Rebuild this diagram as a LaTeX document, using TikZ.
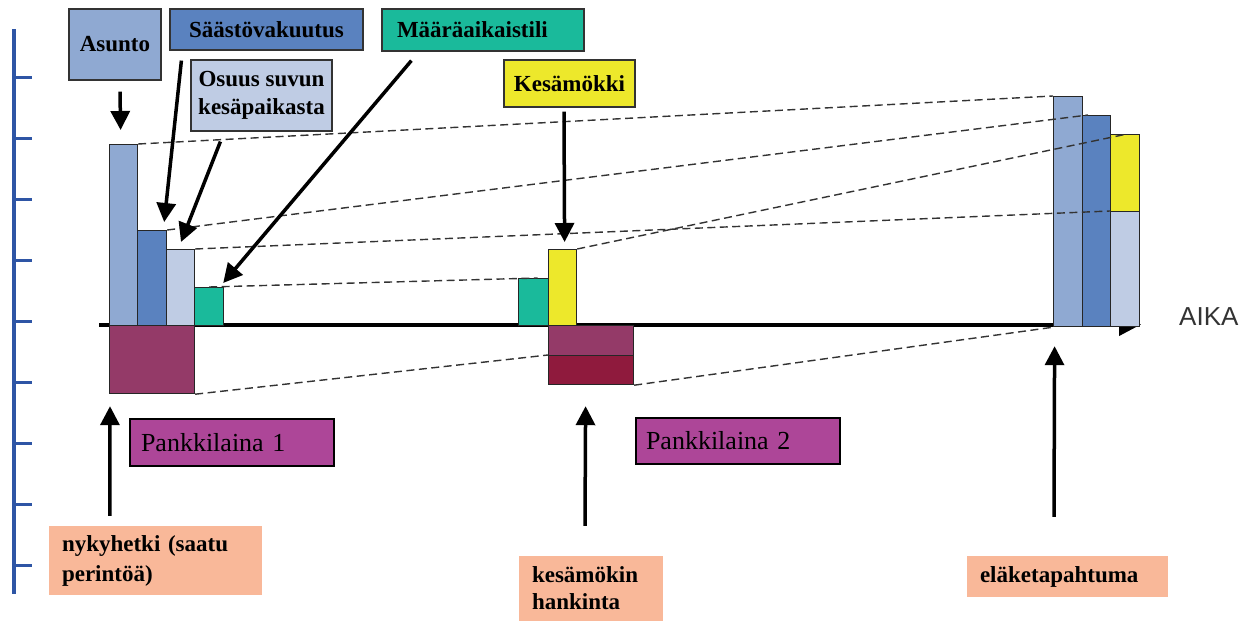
\documentclass[tikz,border=0pt]{standalone}
\usepackage{fontspec}
\setmainfont{Liberation Serif}
\newfontfamily\aikafont{Liberation Sans}
\usetikzlibrary{arrows.meta,calc}
\definecolor{cAs}{HTML}{8FA9D2}
\definecolor{cSa}{HTML}{5A82BF}
\definecolor{cOs}{HTML}{BFCCE4}
\definecolor{cTe}{HTML}{1ABA9B}
\definecolor{cYe}{HTML}{EDE82B}
\definecolor{cPu}{HTML}{943A68}
\definecolor{cDr}{HTML}{8F1A3D}
\definecolor{cPl}{HTML}{AD4698}
\definecolor{cOr}{HTML}{F9B899}
\definecolor{cAx}{HTML}{2E55A5}
\definecolor{cAika}{HTML}{333333}
\tikzset{
  bar/.style={draw=black!85, line width=1.2pt, inner sep=0pt, anchor=north west},
  toplab/.style={draw=black!80, line width=1.2pt, inner sep=0pt, text=black,
    font=\fontsize{23}{28}\selectfont\bfseries, align=center},
  leftlab/.style={inner ysep=0pt, align=left, text=black},
  loanlab/.style={draw=black, line width=2pt, leftlab, fill=cPl,
    font=\fontsize{26}{30}\selectfont},
  eventlab/.style={leftlab, fill=cOr, inner xsep=13pt},
  arr/.style={line width=3.5pt, -{Triangle[length=19pt,width=19pt]}},
  dash line/.style={draw=black!80, line width=1.4pt, dash pattern=on 8pt off 4.5pt},
}
\begin{document}
\begin{tikzpicture}[x=1pt,y=-1pt]
\useasboundingbox (0,0) rectangle (1248,621);
\fill[white] (0,0) rectangle (1248,621);

% left scale
\draw[cAx, line width=4pt] (14,29) -- (14,594);
\foreach \i in {0,...,8}
  \draw[cAx, line width=3pt] (14,77+61.1*\i) -- (32,77+61.1*\i);

% time axis
\coordinate (axs) at (99,324.5);
\coordinate (axe) at (1141,324.5);
\draw[line width=4pt, -{Triangle[length=22pt,width=22pt]}] (axs) -- (axe);
\node[font=\aikafont\fontsize{26}{30}\selectfont, text=cAika, anchor=base west, inner sep=0pt] (aika) at (1179,325) {AIKA};

% left bars
\node[bar, fill=cAs, minimum width=28pt, minimum height=181pt] (b1) at (109,144) {};
\node[bar, fill=cSa, minimum width=29pt, minimum height=95pt] (b2) at (137,230) {};
\node[bar, fill=cOs, minimum width=28pt, minimum height=76pt] (b3) at (166,249) {};
\node[bar, fill=cTe, minimum width=29pt, minimum height=38pt] (b4) at (194,287) {};
\node[bar, fill=cPu, minimum width=85pt, minimum height=68pt] (p1) at (109,325) {};
% middle bars
\node[bar, fill=cTe, minimum width=30pt, minimum height=47pt] (m1) at (518,278) {};
\node[bar, fill=cYe, minimum width=28pt, minimum height=76pt] (m2) at (548,249) {};
\node[bar, fill=cPu, minimum width=85pt, minimum height=30pt] (m3) at (548,325) {};
\node[bar, fill=cDr, minimum width=85pt, minimum height=29pt] (m4) at (548,355) {};
% right bars
\node[bar, fill=cAs, minimum width=29pt, minimum height=230pt] (r1) at (1053,96) {};
\node[bar, fill=cSa, minimum width=28pt, minimum height=211pt] (r2) at (1082,115) {};
\node[bar, fill=cYe, minimum width=29pt, minimum height=77pt] (r3y) at (1110,134) {};
\node[bar, fill=cOs, minimum width=29pt, minimum height=115pt] (r3b) at (1110,211) {};

% dashed connections
\draw[dash line] (b1.north east) -- (r1.north west);
\draw[dash line] (b2.north east) -- ([xshift=6pt]r2.north west);
\draw[dash line] (b3.north east) -- (r3b.north west);
\draw[dash line] (b4.north) -- ([xshift=4pt]m1.north);
\draw[dash line] (m2.north east) -- ([xshift=2pt]r3y.north);
\draw[dash line] (p1.south east) -- (m4.north west);
\draw[dash line] (m4.south east) -- (r1.south west);

% top labels
\node[toplab, fill=cAs, minimum width=92pt, minimum height=71pt] (asunto) at (115,44.5) {Asunto};
\node[toplab, fill=cSa, minimum width=193pt, minimum height=41pt] (sa) at (266.5,29.5) {Säästövakuutus};
\node[toplab, fill=cOs, minimum width=141pt, minimum height=71pt] (os) at (261.5,95.5) {Osuus suvun\\kesäpaikasta};
\node[toplab, fill=cTe, minimum height=42pt, text width=172pt, inner xsep=15pt, align=left] (ma) at (483,30) {Määräaikaistili};
\node[toplab, fill=cYe, minimum width=131pt, minimum height=47pt] (ke) at (569.5,83.5) {Kesämökki};

% loan labels
\node[loanlab, minimum height=47pt, text width=182pt, inner xsep=11pt] (pl1) at (232,442.5) {Pankkilaina 1};
\node[loanlab, minimum height=46pt, text width=184pt, inner xsep=10pt] (pl2) at (738,441) {Pankkilaina 2};

% event labels
\node[eventlab, minimum height=69pt, text width=187pt, font=\fontsize{23}{30}\selectfont\bfseries] (ny) at (155.5,560.5) {nykyhetki (saatu\\perintöä)};
\node[eventlab, minimum height=65pt, text width=118pt, font=\fontsize{23}{27}\selectfont\bfseries] (km) at (591,588.5) {kesämökin\\hankinta};
\node[eventlab, minimum height=41pt, text width=175pt, font=\fontsize{23}{27}\selectfont\bfseries] (el) at (1067.5,576.5) {eläketapahtuma};

% arrows
\draw[arr] ([xshift=5pt,yshift=-11pt]asunto.south) -- ([xshift=-3pt,yshift=14pt]b1.north);
\draw[arr] ([xshift=12pt,yshift=-10pt]sa.south west) -- ([xshift=-3pt,yshift=8pt]b2.north east);
\draw[arr] ([xshift=30pt,yshift=-10pt]os.south west) -- ([xshift=15pt,yshift=7pt]b3.north west);
\draw[arr] ([xshift=30pt,yshift=-9pt]ma.south west) -- ([xshift=-1pt,yshift=4pt]b4.north east);
\draw[arr] ([xshift=-5.5pt,yshift=-4pt]ke.south) -- ([xshift=2pt,yshift=7pt]m2.north);
\draw[arr] ([xshift=61pt,yshift=10pt]ny.north west) -- ([xshift=1pt,yshift=-12pt]p1.south west);
\draw[arr] ([xshift=-6pt,yshift=30pt]km.north) -- ([xshift=-5.5pt,yshift=-21pt]m4.south);
\draw[arr] ([xshift=-13.5pt,yshift=39pt]el.north) -- ([xshift=-13.5pt,yshift=-19pt]r1.south);
\end{tikzpicture}
\end{document}
